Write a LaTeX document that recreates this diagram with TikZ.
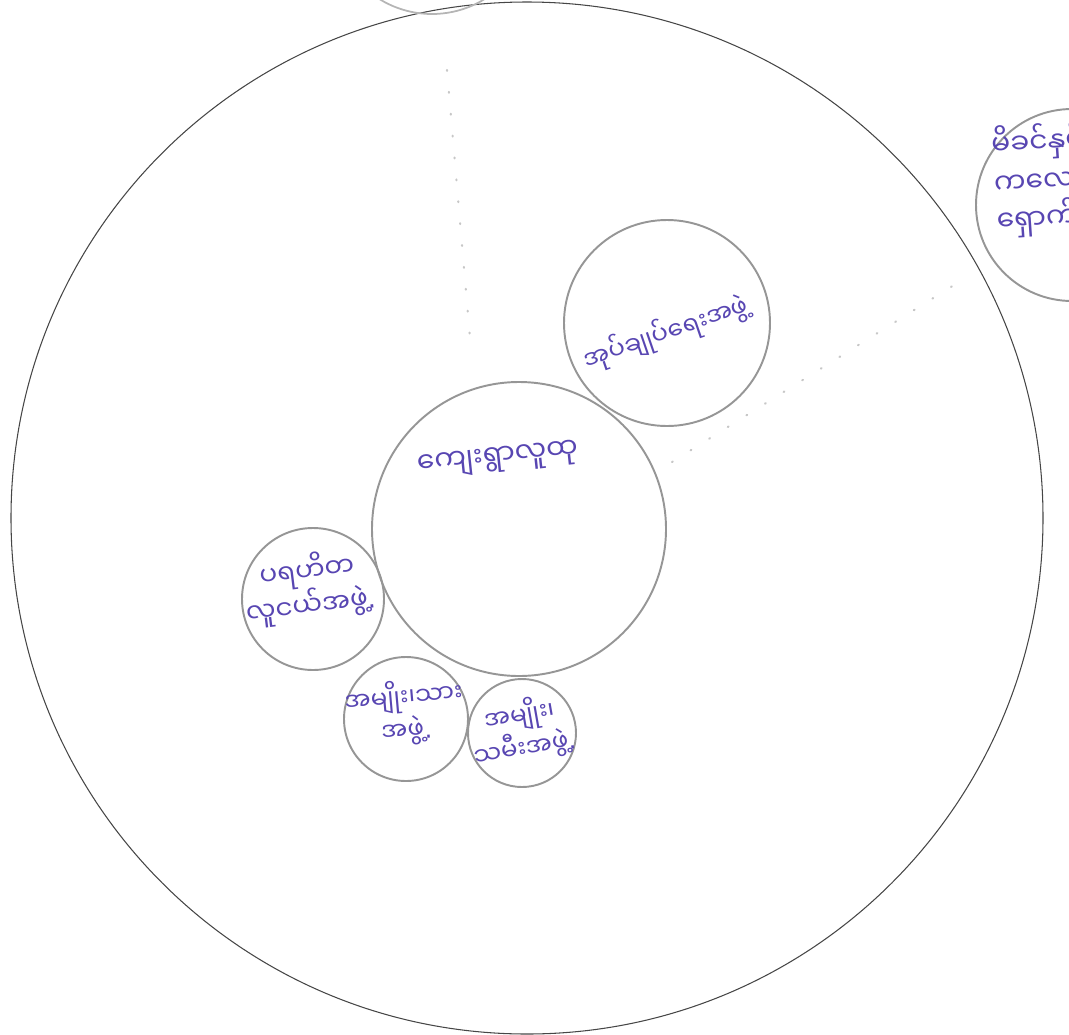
\documentclass[tikz,border=0pt]{standalone}
\usepackage{fontspec}
\newfontfamily\myanfont[Script=Myanmar]{Noto Sans Myanmar UI}
\newfontfamily\dotfont{DejaVu Sans}
\newcommand{\stopdot}{{\dotfont .}}
\usetikzlibrary{positioning}

\definecolor{ink}{RGB}{88,70,178}
\definecolor{ringgray}{RGB}{150,150,150}
\definecolor{outergray}{RGB}{70,70,70}

\begin{document}
\begin{tikzpicture}[x=0.02cm,y=-0.02cm,
  group/.style={circle,draw=ringgray,line width=1.1pt,inner sep=0pt},
  hand/.style={text=ink,font=\myanfont\fontsize{16}{21}\selectfont,align=center,inner sep=1pt},
  smallhand/.style={hand,font=\myanfont\fontsize{14}{19}\selectfont},
  faint/.style={draw=black!22,line width=1.2pt,line cap=round,dash pattern=on 0.5pt off 12pt}]
\useasboundingbox (0,0) rectangle (1069,1035);
\clip (0,0) rectangle (1069,1035);

% whole village
\node[circle,draw=outergray,line width=.6pt,inner sep=0pt,minimum size=2*516*0.02cm] (whole) at (527,518) {};
\node[circle,draw=ringgray!70,line width=1pt,inner sep=0pt,minimum size=2*100*0.02cm] (topgroup) at (432,-86) {};

% groups
\foreach \nm/\cx/\cy/\r in {village/519/529/147,admin/667/323/103,youth/313/599/71,men/406/719/62,women/522/733/54,care/1072/205/96}
  \node[group,minimum size=2*\r*0.02cm] (\nm) at (\cx,\cy) {};

% faint pencil dots
\coordinate (dotA) at (672,462);
\coordinate (dotB) at (962,280);
\coordinate (dotC) at (447,70);
\coordinate (dotD) at (471,350);
\draw[faint] (dotA) -- (dotB);
\draw[faint] (dotC) -- (dotD);

% labels
\node[hand,rotate=6] (villagetext) at (498,460) {ကျေးရွာလူထု};
\node[smallhand,rotate=19] (admintext) at (666,333) {အုပ်ချုပ်ရေးအဖွဲ့};
\node[hand,rotate=7,font=\myanfont\fontsize{15}{20}\selectfont] (youthtext) at (309,588) {ပရဟိတ\\လူငယ်အဖွဲ့\stopdot};
\node[smallhand,rotate=5] (mentext) at (405,713) {အမျိုး၊သား\\အဖွဲ့\stopdot};
\node[smallhand,rotate=10] (womentext) at (522,731) {အမျိုး၊\\သမီးအဖွဲ့\stopdot};
\node[hand,align=left,anchor=west,rotate=4] (caretext) at (992,183) {မိခင်နှင့်\\ကလေးစောင့်\\ရှောက်ရေး};
\end{tikzpicture}
\end{document}
